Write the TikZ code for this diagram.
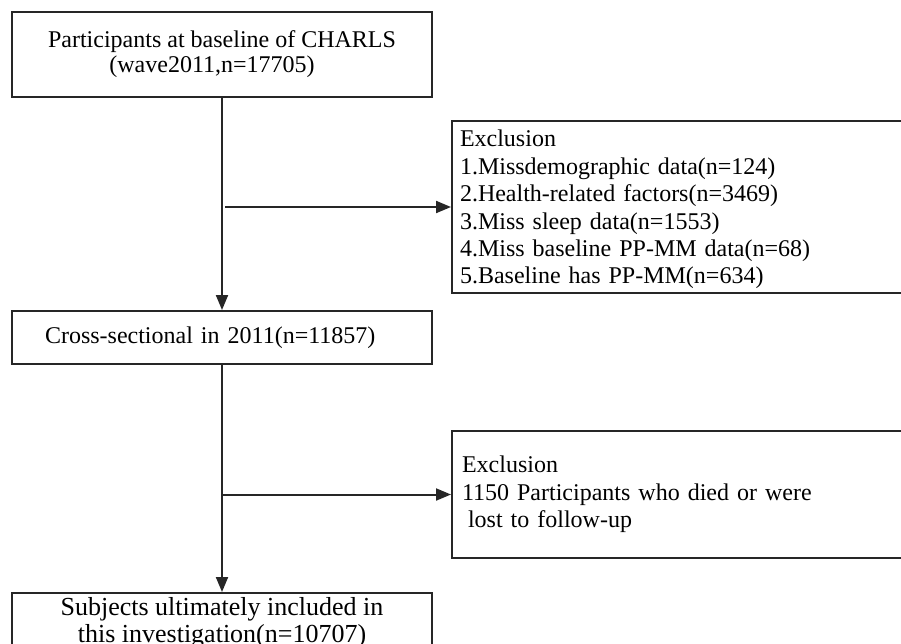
\documentclass[tikz,border=0pt]{standalone}
\usepackage{fontspec}
\setmainfont{Liberation Serif}
\usetikzlibrary{arrows.meta, positioning}

\begin{document}
\begin{tikzpicture}[
    x=1pt, y=-1pt,
    box/.style={draw=black!85, line width=2pt, minimum width=420pt,
                align=center, font=\fontsize{24}{25}\selectfont},
    exbox/.style={draw=black!85, line width=2pt, text width=442pt,
                inner xsep=8pt, align=left, font=\fontsize{24}{27.4}\selectfont},
    arrow/.style={-{Triangle[length=15pt, width=12pt]}, line width=2pt, draw=black!85},
]
\useasboundingbox[fill=white] (0,0) rectangle (901,643);
\clip (0,0) rectangle (901,643);

\node[box, minimum height=85pt] (base) at (222,54.5)
    {Participants at baseline of CHARLS\\\hspace*{-20pt}(wave2011,n=17705)};
\node[box, minimum height=53pt, text width=354pt, inner xsep=33pt, align=left] (cross) at (222,337.5)
    {Cross-sectional in 2011(n=11857)};
\node[box, anchor=north, inner ysep=4pt, font=\fontsize{26}{27}\selectfont] (final) at (222,592)
    {Subjects ultimately included in\\this investigation(n=10707)};

\node[exbox, minimum height=172pt] (excl1) at (681,207)
    {\rule{0pt}{22pt}Exclusion\\1.Missdemographic data(n=124)\\2.Health-related factors(n=3469)\\3.Miss sleep data(n=1553)\\4.Miss baseline PP-MM data(n=68)\\5.Baseline has PP-MM(n=634)};
\node[exbox, minimum height=127pt, inner xsep=10pt, text width=438pt] (excl2) at (681,494.5)
    {Exclusion\\1150 Participants who died or were\\\hspace*{6pt}lost to follow-up};

\draw[arrow] (base) -- (cross);
\draw[arrow] (cross) -- (final);

% branches to the exclusion boxes
\coordinate (split1) at (225,207);
\coordinate (split2) at (222,494.5);
\draw[arrow] (split1) -- (excl1);
\draw[arrow] (split2) -- (excl2);
\end{tikzpicture}
\end{document}
